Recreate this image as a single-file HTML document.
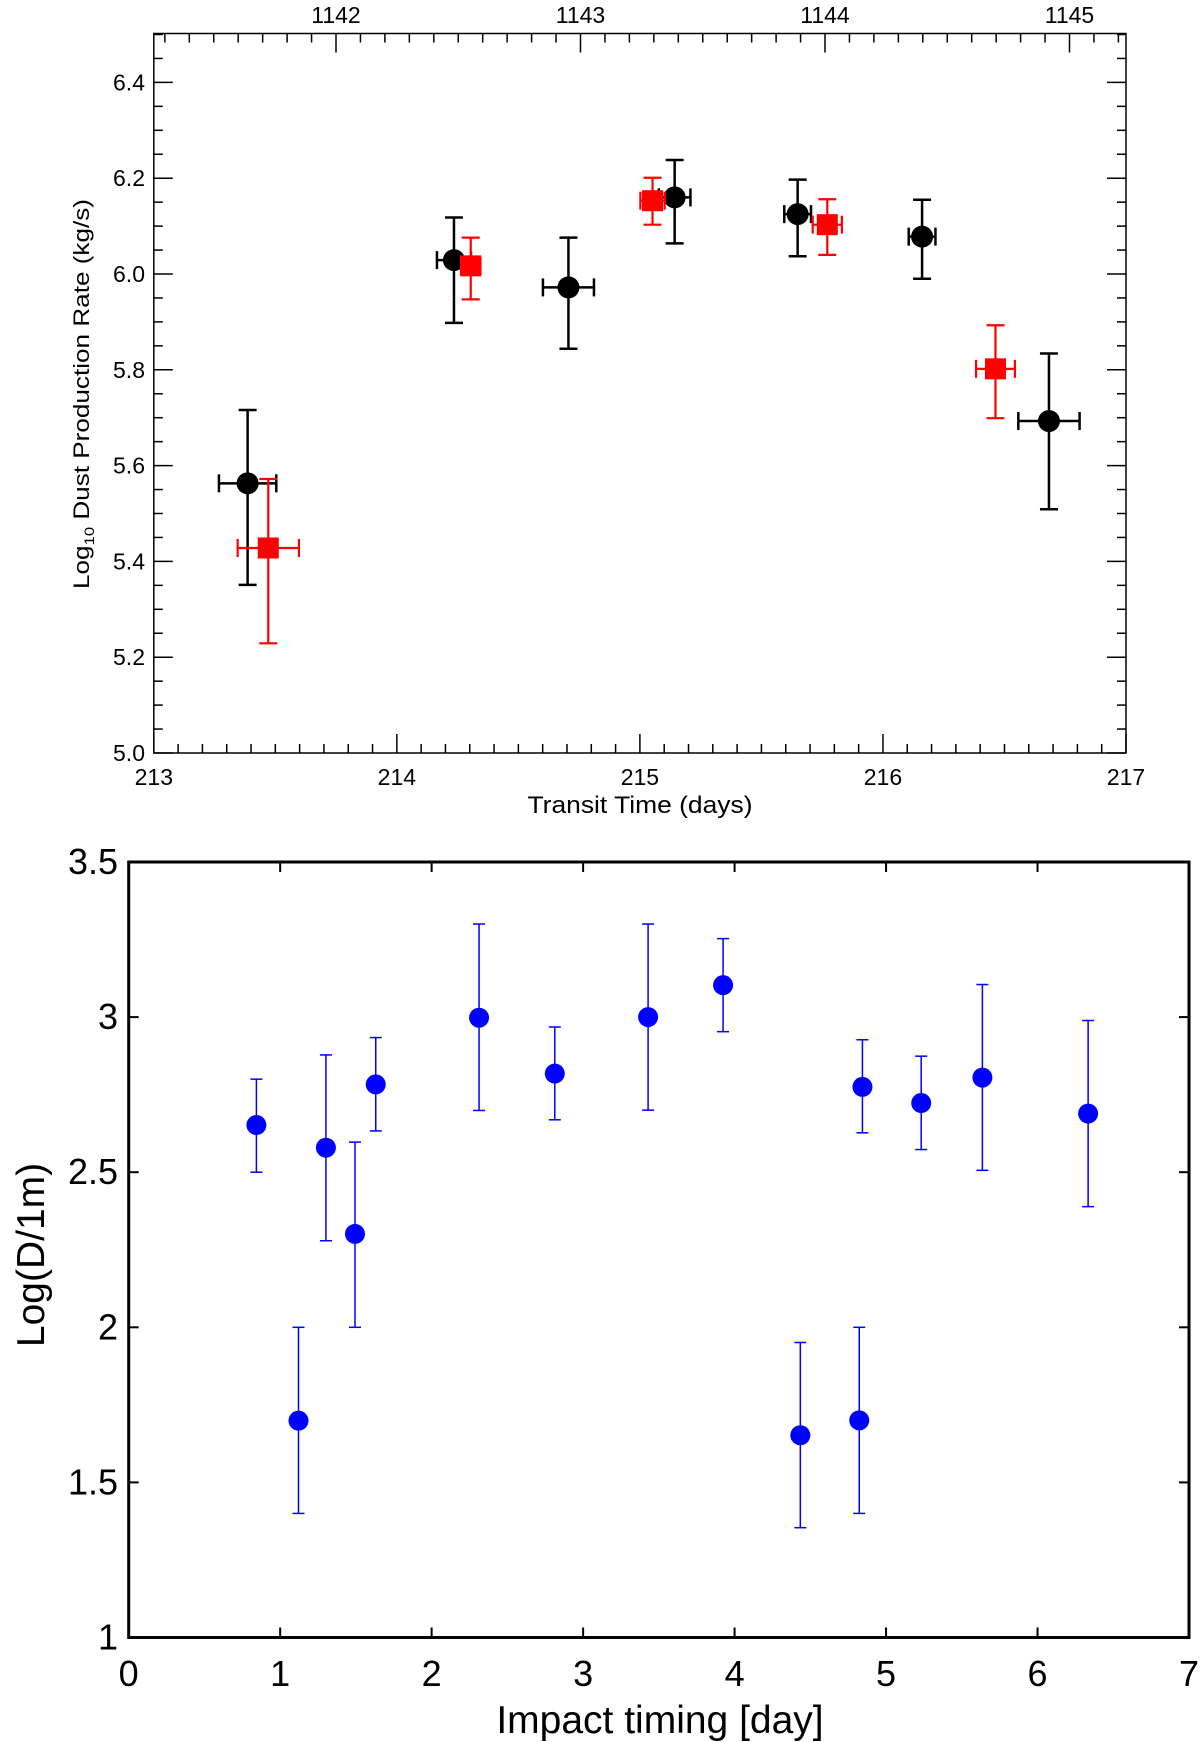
<!DOCTYPE html>
<html><head><meta charset="utf-8"><style>
html,body{margin:0;padding:0;background:#fff;}
svg{display:block;font-family:"Liberation Sans",sans-serif;}
</style></head><body>
<svg id="fig" width="1200" height="1742" viewBox="0 0 1200 1742" xmlns="http://www.w3.org/2000/svg">
<g id="top"></g>
<g id="bot"></g>
</svg>
<script>
// ---- Top chart data ----
const blackX = [213.386, 214.235, 214.706, 215.143, 215.649, 216.161, 216.683];
const blackY = [5.563, 6.029, 5.972, 6.160, 6.125, 6.078, 5.693];
const blackYLo = [5.351, 5.898, 5.844, 6.064, 6.037, 5.990, 5.509];
const blackYHi = [5.716, 6.118, 6.076, 6.238, 6.197, 6.155, 5.834];
const blackXErr = [0.118, 0.07, 0.105, 0.065, 0.055, 0.055, 0.126];
const redX = [213.471, 214.304, 215.052, 215.771, 216.463];
const redY = [5.428, 6.017, 6.153, 6.103, 5.802];
const redYLo = [5.229, 5.947, 6.103, 6.040, 5.699];
const redYHi = [5.572, 6.076, 6.201, 6.156, 5.893];
const redXErr = [0.126, 0.04, 0.05, 0.06, 0.08];
const topXTicks = [213, 214, 215, 216, 217];
const topYTicks = [5.0, 5.2, 5.4, 5.6, 5.8, 6.0, 6.2, 6.4];
const top2Ticks = [1142, 1143, 1144, 1145];
// ---- Bottom chart data ----
const impX = [0.843, 1.121, 1.302, 1.494, 1.631, 2.313, 2.813, 3.429, 3.924, 4.434, 4.823, 4.844, 5.232, 5.636, 6.334];
const impY = [2.652, 1.699, 2.579, 2.301, 2.783, 2.998, 2.818, 3.0, 3.103, 1.652, 1.70, 2.775, 2.723, 2.805, 2.689];
const impHi = [2.80, 2.0, 2.878, 2.597, 2.934, 3.30, 2.968, 3.30, 3.253, 1.951, 2.0, 2.927, 2.874, 3.105, 2.989];
const impLo = [2.50, 1.40, 2.279, 2.0, 2.633, 2.699, 2.669, 2.70, 2.953, 1.354, 1.40, 2.627, 2.573, 2.506, 2.389];
const botXTicks = [0, 1, 2, 3, 4, 5, 6, 7];
const botYTicks = [1, 1.5, 2, 2.5, 3, 3.5];

const NS = "http://www.w3.org/2000/svg";
function mk(parent, tag, attrs, text) {
  const e = document.createElementNS(NS, tag);
  for (const k in attrs) e.setAttribute(k, attrs[k]);
  if (text !== undefined) e.textContent = text;
  parent.appendChild(e);
  return e;
}

// ===== TOP =====
(function () {
  const g = document.getElementById('top');
  const L = 153.8, R = 1126, T = 33.5, B = 753;
  const xs = v => L + (v - 213) / 4 * (R - L);
  const ys = v => B - (v - 5) / 1.5 * (B - 34.5);
  const x2 = v => 336 + (v - 1142) * 244.5;
  const frame = mk(g, 'rect', {x: L, y: T, width: R - L, height: B - T, fill: 'none', stroke: '#000', 'stroke-width': 1.5});
  
  
  const tk = mk(g, 'g', {stroke: '#000', 'stroke-width': 1.5});
  
  
  for (let i = 0; i <= 40; i++) {
    const v = 213 + i * 0.1, x = xs(v), len = (i % 10 === 0) ? 19 : 9;
    mk(tk, 'line', {x1: x, y1: B, x2: x, y2: B - len});
  }
  for (let i = 3; i <= 42; i++) {
    const v = 1141 + i * 0.1, x = x2(v);
    if (x <= L + 1 || x >= R - 1) continue;
    const len = (i % 10 === 0) ? 19 : 9;
    mk(tk, 'line', {x1: x, y1: T, x2: x, y2: T + len});
  }
  for (let i = 0; i <= 30; i++) {
    const v = 5 + i * 0.05, y = ys(v), len = (i % 4 === 0) ? 19 : 9;
    mk(tk, 'line', {x1: L, y1: y, x2: L + len, y2: y});
    mk(tk, 'line', {x1: R, y1: y, x2: R - len, y2: y});
  }
  topXTicks.forEach(v => {
    const t = mk(g, 'text', {x: xs(v), y: 785, 'font-size': 23, 'text-anchor': 'middle'}, String(v));
    
    
  });
  topYTicks.forEach(v => {
    const t = mk(g, 'text', {x: 145, y: ys(v) + 8, 'font-size': 23, 'text-anchor': 'end'}, v.toFixed(1));
    
    
  });
  top2Ticks.forEach(v => {
    const t = mk(g, 'text', {x: x2(v), y: 23, 'font-size': 23, 'text-anchor': 'middle'}, String(v));
    
    
  });
  const xt = mk(g, 'text', {x: 640, y: 813, 'font-size': 24, 'text-anchor': 'middle', textLength: 225, lengthAdjust: 'spacingAndGlyphs'}, 'Transit Time (days)');
  
  
  const yt = mk(g, 'text', {x: 0, y: 0, 'font-size': 22, 'text-anchor': 'middle', transform: 'translate(89,394) rotate(-90)', textLength: 390, lengthAdjust: 'spacingAndGlyphs'});
  
  
  mk(yt, 'tspan', {}, 'Log');
  mk(yt, 'tspan', {'font-size': 14, dy: 5}, '10');
  mk(yt, 'tspan', {dy: -5}, ' Dust Production Rate (kg/s)');

  const bs = mk(g, 'g', {stroke: '#000', 'stroke-width': 2.5, fill: '#000'});
  
  
  blackX.forEach((v, i) => {
    const x = xs(v), y = ys(blackY[i]), c = 9;
    const p = mk(bs, 'g', {});
    
    
    mk(p, 'line', {x1: x, y1: ys(blackYLo[i]), x2: x, y2: ys(blackYHi[i])});
    mk(p, 'line', {x1: x - c, y1: ys(blackYLo[i]), x2: x + c, y2: ys(blackYLo[i])});
    mk(p, 'line', {x1: x - c, y1: ys(blackYHi[i]), x2: x + c, y2: ys(blackYHi[i])});
    const xl = xs(v - blackXErr[i]), xr = xs(v + blackXErr[i]);
    mk(p, 'line', {x1: xl, y1: y, x2: xr, y2: y});
    mk(p, 'line', {x1: xl, y1: y - c, x2: xl, y2: y + c});
    mk(p, 'line', {x1: xr, y1: y - c, x2: xr, y2: y + c});
    mk(p, 'circle', {cx: x, cy: y, r: 11, stroke: 'none'});
  });
  const rs = mk(g, 'g', {stroke: '#f00', 'stroke-width': 2.2, fill: '#f00'});
  
  
  redX.forEach((v, i) => {
    const x = xs(v), y = ys(redY[i]), c = 9;
    const p = mk(rs, 'g', {});
    
    
    mk(p, 'line', {x1: x, y1: ys(redYLo[i]), x2: x, y2: ys(redYHi[i])});
    mk(p, 'line', {x1: x - c, y1: ys(redYLo[i]), x2: x + c, y2: ys(redYLo[i])});
    mk(p, 'line', {x1: x - c, y1: ys(redYHi[i]), x2: x + c, y2: ys(redYHi[i])});
    const xl = xs(v - redXErr[i]), xr = xs(v + redXErr[i]);
    mk(p, 'line', {x1: xl, y1: y, x2: xr, y2: y});
    mk(p, 'line', {x1: xl, y1: y - c, x2: xl, y2: y + c});
    mk(p, 'line', {x1: xr, y1: y - c, x2: xr, y2: y + c});
    mk(p, 'rect', {x: x - 10.5, y: y - 10.5, width: 21, height: 21, stroke: 'none'});
  });
})();

// ===== BOTTOM =====
(function () {
  const g = document.getElementById('bot');
  const L = 128.7, R = 1189, T = 862, B = 1637.5;
  const xs = v => L + v / 7 * (R - L);
  const ys = v => B - (v - 1) / 2.5 * (B - T);
  const frame = mk(g, 'rect', {x: L, y: T, width: R - L, height: B - T, fill: 'none', stroke: '#000', 'stroke-width': 3});
  
  
  const tk = mk(g, 'g', {stroke: '#000', 'stroke-width': 2});
  
  
  botXTicks.forEach(v => {
    const x = xs(v);
    mk(tk, 'line', {x1: x, y1: B, x2: x, y2: B - 10});
    mk(tk, 'line', {x1: x, y1: T, x2: x, y2: T + 10});
    const t = mk(g, 'text', {x: x, y: 1686, 'font-size': 36, 'text-anchor': 'middle'}, String(v));
    
    
  });
  botYTicks.forEach(v => {
    const y = ys(v);
    mk(tk, 'line', {x1: L, y1: y, x2: L + 10, y2: y});
    mk(tk, 'line', {x1: R, y1: y, x2: R - 10, y2: y});
    const t = mk(g, 'text', {x: 118, y: y + 12, 'font-size': 36, 'text-anchor': 'end'}, String(v));
    
    
  });
  const xt = mk(g, 'text', {x: 660, y: 1733, 'font-size': 39, 'text-anchor': 'middle'}, 'Impact timing [day]');
  
  
  const yt = mk(g, 'text', {x: 0, y: 0, 'font-size': 39, 'text-anchor': 'middle', transform: 'translate(44,1255) rotate(-90)'}, 'Log(D/1m)');
  
  
  const s = mk(g, 'g', {stroke: '#00f', 'stroke-width': 1.5, fill: '#00f'});
  
  
  impX.forEach((v, i) => {
    const x = xs(v), y = ys(impY[i]), c = 6;
    const p = mk(s, 'g', {});
    
    
    mk(p, 'line', {x1: x, y1: ys(impLo[i]), x2: x, y2: ys(impHi[i])});
    mk(p, 'line', {x1: x - c, y1: ys(impLo[i]), x2: x + c, y2: ys(impLo[i])});
    mk(p, 'line', {x1: x - c, y1: ys(impHi[i]), x2: x + c, y2: ys(impHi[i])});
    mk(p, 'circle', {cx: x, cy: y, r: 10, stroke: 'none'});
  });
})();
</script>
</body></html>
